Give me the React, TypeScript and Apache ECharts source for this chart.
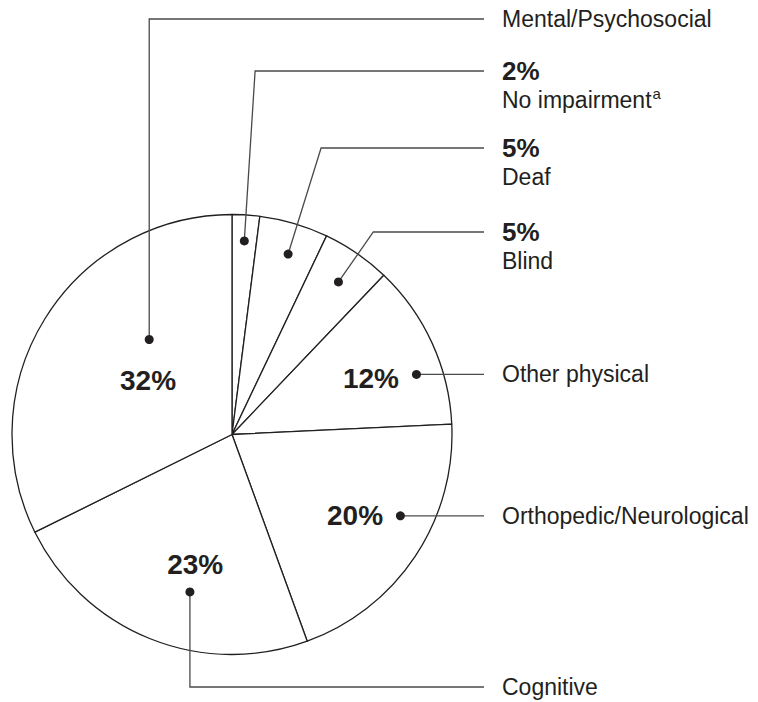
import React, { useEffect, useRef } from 'react';
import * as echarts from 'echarts';

// ---- data ----
const categories = [
  'No impairment',
  'Deaf',
  'Blind',
  'Other physical',
  'Orthopedic/Neurological',
  'Cognitive',
  'Mental/Psychosocial',
];
const values = [2, 5, 5, 12, 20, 23, 32];
const footnoteMarks = ['a', '', '', '', '', '', ''];
// percentage shown next to the callout text (small slices) or inside the slice
const percentOutside = [true, true, true, false, false, false, false];

// ---- layout (positions, not data) ----
const CX = 232;
const CY = 434.5;
const R = 220;
const LINE_END = 484;
const TEXT_X = 502;
// [fraction of slice angle, radius in px] for the callout dot
const dotLayout: [number, number][] = [
  [0.5, 194], [0.55, 189], [0.52, 186], [0.649, 194], [0.392, 187], [0.418, 163], [0.647, 126],
];
// inner percentage label position
const innerLayout: ([number, number] | null)[] = [
  null, null, null, [0.556, 150], [0.498, 147.5], [0.429, 134.7], [0.506, 99.6],
];
const calloutKind = ['radial', 'radial', 'radial', 'horizontal', 'horizontal', 'vertical', 'vertical'];
const calloutY: (number | null)[] = [71, 148, 232, null, null, 687, 19];

const FONT = '"Liberation Sans", Arial, Helvetica, sans-serif';
const INK = '#231f20';
const LINE = '#4a4a4a';
const NAME_SIZE = 23;

function polar(deg: number, r: number): [number, number] {
  const a = (deg * Math.PI) / 180;
  return [CX + r * Math.sin(a), CY - r * Math.cos(a)];
}

function measure(text: string, size: number): number {
  const c = document.createElement('canvas');
  const ctx = c.getContext('2d');
  if (!ctx) return text.length * size * 0.5;
  ctx.font = `${size}px "Liberation Sans", Arial, sans-serif`;
  return ctx.measureText(text).width;
}

export default function App() {
  const ref = useRef<HTMLDivElement>(null);

  useEffect(() => {
    document.body.style.margin = '0';
    if (!ref.current) return;
    const chart = echarts.init(ref.current, undefined, { renderer: 'svg' });

    const total = values.reduce((a, b) => a + b, 0);
    const graphics: any[] = [];
    let cum = 0;
    values.forEach((v, i) => {
      const start = (cum / total) * 360;
      const span = (v / total) * 360;
      cum += v;
      const [t, r] = dotLayout[i];
      const theta = start + t * span;
      const dot = polar(theta, r);
      let pts: number[][] = [];
      let y: number;
      if (calloutKind[i] === 'radial') {
        y = calloutY[i] as number;
        const a = (theta * Math.PI) / 180;
        const k = (dot[1] - y) / Math.cos(a);
        const cx = dot[0] + k * Math.sin(a);
        pts = [dot, [cx, y], [LINE_END, y]];
      } else if (calloutKind[i] === 'vertical') {
        y = calloutY[i] as number;
        pts = [dot, [dot[0], y], [LINE_END, y]];
      } else {
        y = dot[1];
        pts = [dot, [LINE_END, y]];
      }
      graphics.push({
        type: 'polyline',
        z: 10,
        silent: true,
        shape: { points: pts },
        style: { stroke: LINE, lineWidth: 1.3, fill: null },
      });
      graphics.push({
        type: 'circle',
        z: 11,
        silent: true,
        shape: { cx: dot[0], cy: dot[1], r: 4.5 },
        style: { fill: INK },
      });
      let nameY = y;
      if (percentOutside[i]) {
        graphics.push({
          type: 'text',
          z: 11,
          x: TEXT_X,
          y: y,
          style: {
            text: `${v}%`,
            font: `bold 26px ${FONT}`,
            fill: INK,
            textAlign: 'left',
            textVerticalAlign: 'middle',
          },
        });
        nameY = y + 29;
      }
      graphics.push({
        type: 'text',
        z: 11,
        x: TEXT_X,
        y: nameY,
        style: {
          text: categories[i],
          font: `${NAME_SIZE}px ${FONT}`,
          fill: INK,
          textAlign: 'left',
          textVerticalAlign: 'middle',
        },
      });
      if (footnoteMarks[i]) {
        const w = measure(categories[i], NAME_SIZE);
        graphics.push({
          type: 'text',
          z: 11,
          x: TEXT_X + w + 1,
          y: nameY - 7,
          style: {
            text: footnoteMarks[i],
            font: `15px ${FONT}`,
            fill: INK,
            textAlign: 'left',
            textVerticalAlign: 'middle',
          },
        });
      }
      const inner = innerLayout[i];
      if (!percentOutside[i] && inner) {
        const p = polar(start + inner[0] * span, inner[1]);
        graphics.push({
          type: 'text',
          z: 11,
          x: p[0],
          y: p[1],
          style: {
            text: `${v}%`,
            font: `bold 28px ${FONT}`,
            fill: INK,
            textAlign: 'center',
            textVerticalAlign: 'middle',
          },
        });
      }
    });

    chart.setOption({
      animation: false,
      backgroundColor: '#ffffff',
      series: [
        {
          type: 'pie',
          center: [CX, CY],
          radius: R,
          startAngle: 90,
          clockwise: true,
          silent: true,
          label: { show: false },
          labelLine: { show: false },
          emphasis: { disabled: true },
          itemStyle: { color: '#ffffff', borderColor: INK, borderWidth: 1.3 },
          data: categories.map((name, i) => ({ name, value: values[i] })),
        },
      ],
      graphic: { elements: graphics },
    });

    return () => chart.dispose();
  }, []);

  return <div ref={ref} style={{ width: 758, height: 702 }} />;
}
